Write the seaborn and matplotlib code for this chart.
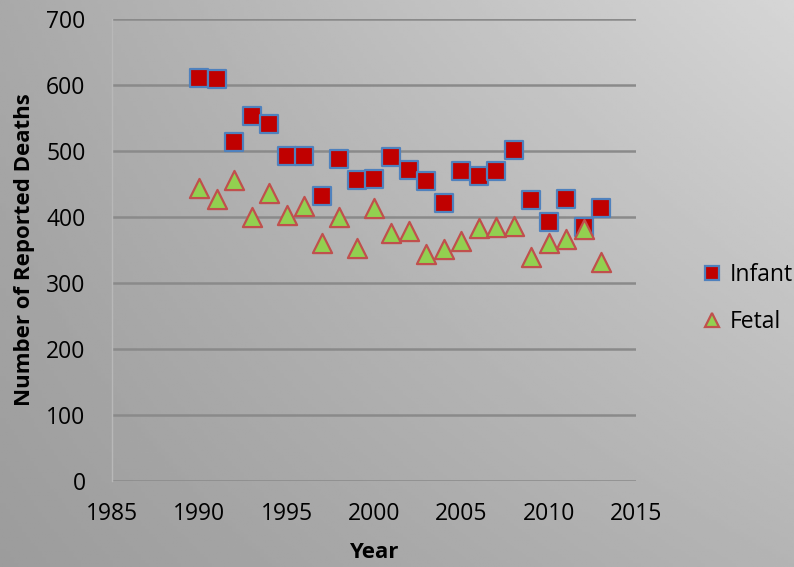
import numpy as np
import pandas as pd
import matplotlib
matplotlib.use('Agg')
import matplotlib.pyplot as plt
import seaborn as sns
from matplotlib.lines import Line2D

# ─────────────────────────────────────────────
# Data
# ─────────────────────────────────────────────
years = list(range(1990, 2014))
infant = [611, 609, 514, 553, 541, 493, 492, 431, 488, 456, 457, 491,
          471, 454, 421, 469, 462, 469, 501, 426, 393, 427, 385, 414]
fetal = [444, 427, 456, 400, 437, 403, 416, 360, 400, 353, 413, 375,
         379, 344, 351, 363, 383, 385, 386, 340, 361, 367, 381, 331]

df = pd.DataFrame({'Year': years, 'Infant': infant, 'Fetal': fetal})

sns.set_style('white')
plt.rcParams['font.family'] = ['Open Sans', 'DejaVu Sans']
plt.rcParams['text.color'] = 'black'
plt.rcParams['axes.labelcolor'] = 'black'

fig = plt.figure(figsize=(7.94, 5.67), dpi=100)

# gray gradient background (bright top-right, darker bottom-left)
bg = fig.add_axes([0, 0, 1, 1], zorder=-10)
xx, yy = np.meshgrid(np.linspace(0, 1, 200), np.linspace(0, 1, 200))
tl, tr, bl, br = 169, 214, 156, 180
grad = (tl * (1 - xx) * (1 - yy) + tr * xx * (1 - yy)
        + bl * (1 - xx) * yy + br * xx * yy) / 255.0
bg.imshow(grad, cmap='gray', vmin=0, vmax=1, aspect='auto',
          extent=[0, 1, 0, 1], origin='upper')
bg.axis('off')

ax = fig.add_axes([0.141, 0.1517, 0.660, 0.815])
ax.set_facecolor('none')

sns.scatterplot(data=df, x='Year', y='Infant', ax=ax, marker='s', s=150,
                color='#c00000', edgecolor='#4f81bd', linewidth=1.6,
                zorder=3)
sns.scatterplot(data=df, x='Year', y='Fetal', ax=ax, marker='^', s=190,
                color='#92d050', edgecolor='#c0504d', linewidth=1.6,
                zorder=3)

ax.set_xlim(1985, 2015)
ax.set_ylim(0, 700)
ax.set_xticks(range(1985, 2016, 5))
ax.set_yticks(range(0, 701, 100))
ax.yaxis.grid(True, color='#8a8a8a', linewidth=1.8)
ax.set_axisbelow(True)
for side in ['top', 'right', 'bottom']:
    ax.spines[side].set_visible(False)
ax.spines['left'].set_color('#b8b8b8')
ax.spines['left'].set_linewidth(1)
ax.tick_params(axis='both', length=0, labelsize=16.5, colors='black')
ax.tick_params(axis='y', pad=19)
ax.tick_params(axis='x', pad=15)

ax.set_xlabel('Year', fontsize=16, fontweight='bold', labelpad=12)
ax.set_ylabel('Number of Reported Deaths', fontsize=16, fontweight='bold',
              labelpad=8)

handles = [
    Line2D([], [], marker='s', linestyle='none', markersize=10,
           markerfacecolor='#c00000', markeredgecolor='#4f81bd',
           markeredgewidth=1.6, label='Infant'),
    Line2D([], [], marker='^', linestyle='none', markersize=10,
           markerfacecolor='#92d050', markeredgecolor='#c0504d',
           markeredgewidth=1.6, label='Fetal'),
]
fig.legend(handles=handles, loc='center left', bbox_to_anchor=(0.882, 0.4735),
           frameon=False, fontsize=16.5, handlelength=1.0, handletextpad=0.3,
           labelspacing=1.0, borderaxespad=0, borderpad=0)

fig.savefig('out.png', dpi=100)
